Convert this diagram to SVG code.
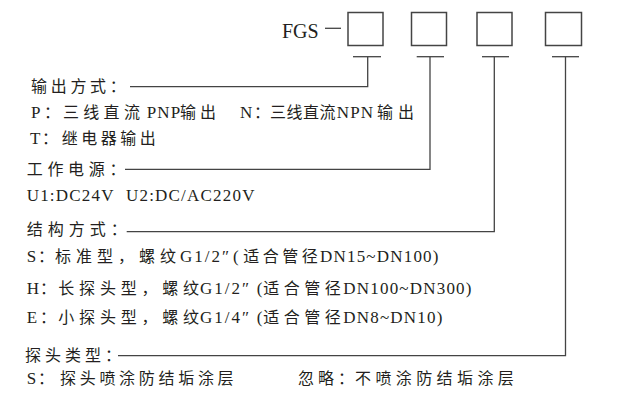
<svg xmlns="http://www.w3.org/2000/svg" width="620" height="408" viewBox="0 0 620 408">
<style>
text{fill:#231f20}
.c{font-family:"Noto Sans CJK SC",sans-serif;font-size:16px;letter-spacing:4px}
.k{font-family:"Noto Sans CJK SC",sans-serif;font-size:16px}
.l{font-family:"Liberation Serif",serif;font-size:17px;letter-spacing:1.2px}
.box{fill:#fff;stroke:#444;stroke-width:1.5}
.ln{fill:none;stroke:#444;stroke-width:1.3}
</style>
<rect width="620" height="408" fill="#fff"/>
<g id="title">
<text x="282" y="38" style="font-family:'Liberation Serif',serif;font-size:20px">FGS</text>
<line class="ln" x1="325" y1="28.3" x2="341" y2="28.3"/>
</g>
<g id="box1"><rect class="box" x="348" y="12.5" width="35" height="33"/></g>
<g id="box2"><rect class="box" x="411.5" y="12.5" width="35" height="33"/></g>
<g id="box3"><rect class="box" x="477" y="12.5" width="35" height="33"/></g>
<g id="box4"><rect class="box" x="545.5" y="12.5" width="36" height="33"/></g>
<g id="connectors">
<line class="ln" x1="353" y1="56.7" x2="381" y2="56.7"/>
<line class="ln" x1="416.7" y1="56.7" x2="444" y2="56.7"/>
<line class="ln" x1="482" y1="56.7" x2="509" y2="56.7"/>
<line class="ln" x1="552" y1="56.7" x2="579" y2="56.7"/>
<polyline class="ln" points="367.7,56.7 367.7,86.7 130,86.7"/>
<polyline class="ln" points="430,56.7 430,169.3 125,169.3"/>
<polyline class="ln" points="494.3,56.7 494.3,231.7 126.7,231.7"/>
<polyline class="ln" points="565.5,56.7 565.5,355.7 118,355.7"/>
</g>
<g id="output">
<text y="92"><tspan class="c" x="31" style="letter-spacing:3.7px">输出方式：</tspan></text>
<text y="118"><tspan class="l" x="31">P</tspan><tspan class="k" x="44">：</tspan><tspan class="c" x="63" style="letter-spacing:4.3px">三线直流</tspan><tspan class="l" x="146.7">PNP</tspan><tspan class="c" x="180">输出</tspan><tspan class="l" x="240">N</tspan><tspan class="k" x="254">：</tspan><tspan class="c" x="270" style="letter-spacing:0.5px">三线直流</tspan><tspan class="l" x="336.7">NPN</tspan><tspan class="c" x="377" style="letter-spacing:5px">输出</tspan></text>
<text y="144"><tspan class="l" x="30">T</tspan><tspan class="k" x="42">：</tspan><tspan class="c" x="61.7" style="letter-spacing:3.5px">继电器输出</tspan></text>
</g>
<g id="power">
<text y="175"><tspan class="c" x="26.7" style="letter-spacing:4.7px">工作电源：</tspan></text>
<text y="201"><tspan class="l" x="26.7">U1:DC24V</tspan><tspan class="l" x="126">U2:DC/AC220V</tspan></text>
</g>
<g id="structure">
<text y="235"><tspan class="c" x="26.7" style="letter-spacing:5px">结构方式：</tspan></text>
<text y="262"><tspan class="l" x="26.7">S</tspan><tspan class="k" x="38">：</tspan><tspan class="c" x="55" style="letter-spacing:5px">标准型，螺纹</tspan><tspan class="l" x="180" style="letter-spacing:2px">G1/2″</tspan><tspan class="l" x="233">(</tspan><tspan class="c" x="243.3" style="letter-spacing:3.5px">适合管径</tspan><tspan class="l" x="320">DN15~DN100)</tspan></text>
<text y="294"><tspan class="l" x="26.7">H</tspan><tspan class="k" x="40">：</tspan><tspan class="c" x="58.3" style="letter-spacing:4.8px">长探头型，螺纹</tspan><tspan class="l" x="200" style="letter-spacing:2px">G1/2″</tspan><tspan class="l" x="256.7">(</tspan><tspan class="c" x="263.3" style="letter-spacing:4.5px">适合管径</tspan><tspan class="l" x="343.3">DN100~DN300)</tspan></text>
<text y="323"><tspan class="l" x="26.7">E</tspan><tspan class="k" x="40">：</tspan><tspan class="c" x="58.3" style="letter-spacing:4.8px">小探头型，螺纹</tspan><tspan class="l" x="200" style="letter-spacing:2px">G1/4″</tspan><tspan class="l" x="256.7">(</tspan><tspan class="c" x="263.3" style="letter-spacing:4.5px">适合管径</tspan><tspan class="l" x="343.3">DN8~DN10)</tspan></text>
</g>
<g id="probe">
<text y="361"><tspan class="c" x="25">探头类型：</tspan></text>
<text y="384"><tspan class="l" x="26.7">S</tspan><tspan class="k" x="38">：</tspan><tspan class="c" x="60" style="letter-spacing:3.7px">探头喷涂防结垢涂层</tspan><tspan class="c" x="298">忽略：</tspan><tspan class="c" x="355" style="letter-spacing:4.4px">不喷涂防结垢涂层</tspan></text>
</g>
</svg>
